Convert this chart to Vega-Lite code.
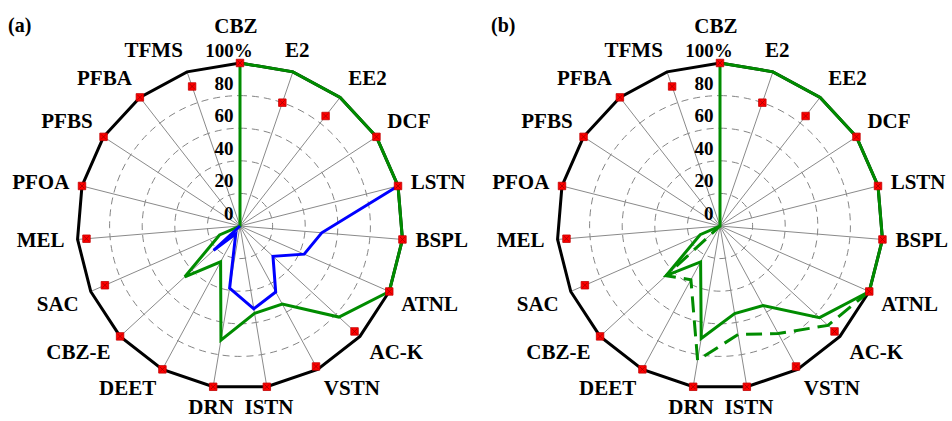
{
"$schema": "https://vega.github.io/schema/vega-lite/v6.json",
"background": "white",
"padding": 0,
"spacing": 0,
"bounds": "flush",
"config": {"view": {"stroke": null}},
"datasets": {
  "axes": [
    {"axis":"CBZ","i":0,"m":100},{"axis":"E2","i":1,"m":80},{"axis":"EE2","i":2,"m":85.5},{"axis":"DCF","i":3,"m":100},
    {"axis":"LSTN","i":4,"m":100},{"axis":"BSPL","i":5,"m":100},{"axis":"ATNL","i":6,"m":100},{"axis":"AC-K","i":7,"m":95.5},
    {"axis":"VSTN","i":8,"m":98},{"axis":"ISTN","i":9,"m":100},{"axis":"DRN","i":10,"m":100},{"axis":"DEET","i":11,"m":100},
    {"axis":"CBZ-E","i":12,"m":100},{"axis":"SAC","i":13,"m":90.5},{"axis":"MEL","i":14,"m":94.5},{"axis":"PFOA","i":15,"m":100},
    {"axis":"PFBS","i":16,"m":100},{"axis":"PFBA","i":17,"m":100},{"axis":"TFMS","i":18,"m":90.5}
  ],
  "rings": [{"r":20},{"r":40},{"r":60},{"r":80}],
  "ticks": [{"t":"0","v":0},{"t":"20","v":20},{"t":"40","v":40},{"t":"60","v":60},{"t":"80","v":80},{"t":"100%","v":100}],
  "a_green": [
    {"i":0,"v":100},{"i":1,"v":100},{"i":2,"v":100},{"i":3,"v":100},{"i":4,"v":100},{"i":5,"v":100},{"i":6,"v":100},
    {"i":7,"v":82.5},{"i":8,"v":54.5},{"i":9,"v":54.3},{"i":10,"v":71},{"i":11,"v":25},{"i":12,"v":46},{"i":13,"v":13.7},
    {"i":14,"v":0},{"i":15,"v":0},{"i":16,"v":0},{"i":17,"v":0},{"i":18,"v":0}
  ],
  "a_blue": [
    {"i":4,"v":100},{"i":5,"v":50.3},{"i":6,"v":43},{"i":7,"v":27.5},{"i":8,"v":46},{"i":9,"v":51.5},
    {"i":10,"v":38.7},{"i":11,"v":5.5},{"i":12,"v":22},{"i":13,"v":0}
  ],
  "b_solid": [
    {"i":0,"v":100},{"i":1,"v":100},{"i":2,"v":100},{"i":3,"v":100},{"i":4,"v":100},{"i":5,"v":100},{"i":6,"v":100},
    {"i":7,"v":83},{"i":8,"v":55.5},{"i":9,"v":54.5},{"i":10,"v":70},{"i":11,"v":25},{"i":12,"v":45},{"i":13,"v":13.3},
    {"i":14,"v":0},{"i":15,"v":0},{"i":16,"v":0},{"i":17,"v":0},{"i":18,"v":0}
  ],
  "b_dash": [
    {"i":6,"v":100},{"i":7,"v":90},{"i":8,"v":75},{"i":9,"v":67.5},{"i":10,"v":83.5},{"i":11,"v":37.5},{"i":12,"v":45},{"i":13,"v":0}
  ]
},
"hconcat": [
{
  "width": 480, "height": 421,
  "layer": [
    {"data":{"name":"rings"},
     "transform":[{"calculate":"0","as":"c"}],
     "mark":{"type":"arc","theta":0,"theta2":6.2832,"filled":false,"color":"#858585","strokeWidth":1,"strokeDash":[7,5]},
     "encoding":{
       "x":{"field":"c","type":"quantitative","scale":{"domain":[-147.24,147.24],"nice":false,"zero":false},"axis":null},
       "y":{"field":"c","type":"quantitative","scale":{"domain":[-119.63,138.65],"nice":false,"zero":false},"axis":null},
       "radius":{"field":"r","type":"quantitative","stack":null,"scale":{"type":"linear","domain":[0,100],"range":[0,163],"zero":true},"legend":null}}},
    {"data":{"name":"axes"},
     "transform":[{"calculate":"0","as":"c"},{"calculate":"100*sin(datum.i*2*PI/19)","as":"px"},{"calculate":"100*cos(datum.i*2*PI/19)","as":"py"}],
     "mark":{"type":"rule","color":"#8a8a8a","strokeWidth":1},
     "encoding":{
       "x":{"field":"c","type":"quantitative","scale":{"domain":[-147.24,147.24],"nice":false,"zero":false},"axis":null},
       "y":{"field":"c","type":"quantitative","scale":{"domain":[-119.63,138.65],"nice":false,"zero":false},"axis":null},
       "x2":{"field":"px"},"y2":{"field":"py"}}},
    {"data":{"name":"axes"},
     "transform":[{"calculate":"100*sin(datum.i*2*PI/19)","as":"px"},{"calculate":"100*cos(datum.i*2*PI/19)","as":"py"}],
     "mark":{"type":"line","interpolate":"linear-closed","color":"black","strokeWidth":3},
     "encoding":{
       "x":{"field":"px","type":"quantitative","scale":{"domain":[-147.24,147.24],"nice":false,"zero":false},"axis":null},
       "y":{"field":"py","type":"quantitative","scale":{"domain":[-119.63,138.65],"nice":false,"zero":false},"axis":null},
       "order":{"field":"i"}}},
    {"data":{"name":"a_green"},
     "transform":[{"calculate":"datum.v*sin(datum.i*2*PI/19)","as":"px"},{"calculate":"datum.v*cos(datum.i*2*PI/19)","as":"py"}],
     "mark":{"type":"line","interpolate":"linear-closed","color":"#008c00","strokeWidth":3},
     "encoding":{
       "x":{"field":"px","type":"quantitative","scale":{"domain":[-147.24,147.24],"nice":false,"zero":false},"axis":null},
       "y":{"field":"py","type":"quantitative","scale":{"domain":[-119.63,138.65],"nice":false,"zero":false},"axis":null},
       "order":{"field":"i"}}},
    {"data":{"name":"a_blue"},
     "transform":[{"calculate":"datum.v*sin(datum.i*2*PI/19)","as":"px"},{"calculate":"datum.v*cos(datum.i*2*PI/19)","as":"py"}],
     "mark":{"type":"line","color":"#0000ff","strokeWidth":3},
     "encoding":{
       "x":{"field":"px","type":"quantitative","scale":{"domain":[-147.24,147.24],"nice":false,"zero":false},"axis":null},
       "y":{"field":"py","type":"quantitative","scale":{"domain":[-119.63,138.65],"nice":false,"zero":false},"axis":null},
       "order":{"field":"i"}}},
    {"data":{"name":"axes"},
     "transform":[{"calculate":"datum.m*sin(datum.i*2*PI/19)","as":"px"},{"calculate":"datum.m*cos(datum.i*2*PI/19)","as":"py"}],
     "mark":{"type":"point","shape":"square","filled":true,"fill":"#ff0000","stroke":"#c00000","strokeWidth":0.8,"size":56,"opacity":1},
     "encoding":{
       "x":{"field":"px","type":"quantitative","scale":{"domain":[-147.24,147.24],"nice":false,"zero":false},"axis":null},
       "y":{"field":"py","type":"quantitative","scale":{"domain":[-119.63,138.65],"nice":false,"zero":false},"axis":null}}},
    {"data":{"name":"axes"},
     "transform":[{"calculate":"datum.m*sin(datum.i*2*PI/19)","as":"px"},{"calculate":"datum.m*cos(datum.i*2*PI/19)","as":"py"}],
     "mark":{"type":"point","shape":"M-1,-1L1,1M1,-1L-1,1","filled":false,"stroke":"#a00000","strokeWidth":0.8,"size":24,"opacity":1},
     "encoding":{
       "x":{"field":"px","type":"quantitative","scale":{"domain":[-147.24,147.24],"nice":false,"zero":false},"axis":null},
       "y":{"field":"py","type":"quantitative","scale":{"domain":[-119.63,138.65],"nice":false,"zero":false},"axis":null}}},
    {"data":{"name":"axes"},
     "transform":[{"filter":"datum.i==0"},{"calculate":"-2.5","as":"lx"},{"calculate":"122","as":"ly"}],
     "mark":{"type":"text","align":"center","baseline":"middle","font":"Liberation Serif","fontWeight":"bold","fontSize":21,"color":"black"},
     "encoding":{"x":{"field":"lx","type":"quantitative"},"y":{"field":"ly","type":"quantitative"},"text":{"field":"axis","type":"nominal"}}},
    {"data":{"name":"axes"},
     "transform":[{"filter":"datum.i==1"},{"calculate":"108*sin(datum.i*2*PI/19)","as":"lx"},{"calculate":"108*cos(datum.i*2*PI/19)","as":"ly"}],
     "mark":{"type":"text","align":"center","baseline":"middle","dy":-8,"font":"Liberation Serif","fontWeight":"bold","fontSize":21,"color":"black"},
     "encoding":{"x":{"field":"lx","type":"quantitative"},"y":{"field":"ly","type":"quantitative"},"text":{"field":"axis","type":"nominal"}}},
    {"data":{"name":"axes"},
     "transform":[{"filter":"datum.i>=2 && datum.i<=3"},{"calculate":"108*sin(datum.i*2*PI/19)","as":"lx"},{"calculate":"108*cos(datum.i*2*PI/19)","as":"ly"}],
     "mark":{"type":"text","align":"left","baseline":"middle","dy":-8,"font":"Liberation Serif","fontWeight":"bold","fontSize":21,"color":"black"},
     "encoding":{"x":{"field":"lx","type":"quantitative"},"y":{"field":"ly","type":"quantitative"},"text":{"field":"axis","type":"nominal"}}},
    {"data":{"name":"axes"},
     "transform":[{"filter":"datum.i>=4 && datum.i<=5"},{"calculate":"108*sin(datum.i*2*PI/19)","as":"lx"},{"calculate":"108*cos(datum.i*2*PI/19)","as":"ly"}],
     "mark":{"type":"text","align":"left","baseline":"middle","font":"Liberation Serif","fontWeight":"bold","fontSize":21,"color":"black"},
     "encoding":{"x":{"field":"lx","type":"quantitative"},"y":{"field":"ly","type":"quantitative"},"text":{"field":"axis","type":"nominal"}}},
    {"data":{"name":"axes"},
     "transform":[{"filter":"datum.i>=6 && datum.i<=8"},{"calculate":"108*sin(datum.i*2*PI/19)","as":"lx"},{"calculate":"108*cos(datum.i*2*PI/19)","as":"ly"}],
     "mark":{"type":"text","align":"left","baseline":"middle","dy":8,"font":"Liberation Serif","fontWeight":"bold","fontSize":21,"color":"black"},
     "encoding":{"x":{"field":"lx","type":"quantitative"},"y":{"field":"ly","type":"quantitative"},"text":{"field":"axis","type":"nominal"}}},
    {"data":{"name":"axes"},
     "transform":[{"filter":"datum.i>=9 && datum.i<=10"},{"calculate":"108*sin(datum.i*2*PI/19)","as":"lx"},{"calculate":"108*cos(datum.i*2*PI/19)","as":"ly"}],
     "mark":{"type":"text","align":"center","baseline":"middle","dy":8,"font":"Liberation Serif","fontWeight":"bold","fontSize":21,"color":"black"},
     "encoding":{"x":{"field":"lx","type":"quantitative"},"y":{"field":"ly","type":"quantitative"},"text":{"field":"axis","type":"nominal"}}},
    {"data":{"name":"axes"},
     "transform":[{"filter":"datum.i>=11 && datum.i<=13"},{"calculate":"108*sin(datum.i*2*PI/19)","as":"lx"},{"calculate":"108*cos(datum.i*2*PI/19)","as":"ly"}],
     "mark":{"type":"text","align":"right","baseline":"middle","dy":8,"font":"Liberation Serif","fontWeight":"bold","fontSize":21,"color":"black"},
     "encoding":{"x":{"field":"lx","type":"quantitative"},"y":{"field":"ly","type":"quantitative"},"text":{"field":"axis","type":"nominal"}}},
    {"data":{"name":"axes"},
     "transform":[{"filter":"datum.i>=14 && datum.i<=15"},{"calculate":"108*sin(datum.i*2*PI/19)","as":"lx"},{"calculate":"108*cos(datum.i*2*PI/19)","as":"ly"}],
     "mark":{"type":"text","align":"right","baseline":"middle","font":"Liberation Serif","fontWeight":"bold","fontSize":21,"color":"black"},
     "encoding":{"x":{"field":"lx","type":"quantitative"},"y":{"field":"ly","type":"quantitative"},"text":{"field":"axis","type":"nominal"}}},
    {"data":{"name":"axes"},
     "transform":[{"filter":"datum.i>=16"},{"calculate":"108*sin(datum.i*2*PI/19)","as":"lx"},{"calculate":"108*cos(datum.i*2*PI/19)","as":"ly"}],
     "mark":{"type":"text","align":"right","baseline":"middle","dy":-8,"font":"Liberation Serif","fontWeight":"bold","fontSize":21,"color":"black"},
     "encoding":{"x":{"field":"lx","type":"quantitative"},"y":{"field":"ly","type":"quantitative"},"text":{"field":"axis","type":"nominal"}}},
    {"data":{"name":"ticks"},
     "transform":[{"filter":"datum.v<100"},{"calculate":"-4","as":"tx"}],
     "mark":{"type":"text","align":"right","baseline":"middle","dy":-12,"font":"Liberation Serif","fontWeight":"bold","fontSize":19,"color":"black"},
     "encoding":{"x":{"field":"tx","type":"quantitative"},"y":{"field":"v","type":"quantitative"},"text":{"field":"t","type":"nominal"}}},
    {"data":{"name":"ticks"},
     "transform":[{"filter":"datum.v==100"},{"calculate":"-6.7","as":"tx"}],
     "mark":{"type":"text","align":"center","baseline":"middle","dy":-12,"font":"Liberation Serif","fontWeight":"bold","fontSize":19,"color":"black"},
     "encoding":{"x":{"field":"tx","type":"quantitative"},"y":{"field":"v","type":"quantitative"},"text":{"field":"t","type":"nominal"}}},
    {"data":{"values":[{"t":"(a)"}]},
     "transform":[{"calculate":"-142.3","as":"tx"},{"calculate":"122.5","as":"ty"}],
     "mark":{"type":"text","align":"left","baseline":"middle","font":"Liberation Serif","fontWeight":"bold","fontSize":20,"color":"black"},
     "encoding":{"x":{"field":"tx","type":"quantitative"},"y":{"field":"ty","type":"quantitative"},"text":{"field":"t","type":"nominal"}}}
  ]
},
{
  "width": 472, "height": 421,
  "layer": [
    {"data":{"name":"rings"},
     "transform":[{"calculate":"0","as":"c"}],
     "mark":{"type":"arc","theta":0,"theta2":6.2832,"filled":false,"color":"#858585","strokeWidth":1,"strokeDash":[7,5]},
     "encoding":{
       "x":{"field":"c","type":"quantitative","scale":{"domain":[-147.24,142.33],"nice":false,"zero":false},"axis":null},
       "y":{"field":"c","type":"quantitative","scale":{"domain":[-119.63,138.65],"nice":false,"zero":false},"axis":null},
       "radius":{"field":"r","type":"quantitative","stack":null,"scale":{"type":"linear","domain":[0,100],"range":[0,163],"zero":true},"legend":null}}},
    {"data":{"name":"axes"},
     "transform":[{"calculate":"0","as":"c"},{"calculate":"100*sin(datum.i*2*PI/19)","as":"px"},{"calculate":"100*cos(datum.i*2*PI/19)","as":"py"}],
     "mark":{"type":"rule","color":"#8a8a8a","strokeWidth":1},
     "encoding":{
       "x":{"field":"c","type":"quantitative","scale":{"domain":[-147.24,142.33],"nice":false,"zero":false},"axis":null},
       "y":{"field":"c","type":"quantitative","scale":{"domain":[-119.63,138.65],"nice":false,"zero":false},"axis":null},
       "x2":{"field":"px"},"y2":{"field":"py"}}},
    {"data":{"name":"axes"},
     "transform":[{"calculate":"100*sin(datum.i*2*PI/19)","as":"px"},{"calculate":"100*cos(datum.i*2*PI/19)","as":"py"}],
     "mark":{"type":"line","interpolate":"linear-closed","color":"black","strokeWidth":3},
     "encoding":{
       "x":{"field":"px","type":"quantitative","scale":{"domain":[-147.24,142.33],"nice":false,"zero":false},"axis":null},
       "y":{"field":"py","type":"quantitative","scale":{"domain":[-119.63,138.65],"nice":false,"zero":false},"axis":null},
       "order":{"field":"i"}}},
    {"data":{"name":"b_dash"},
     "transform":[{"calculate":"datum.v*sin(datum.i*2*PI/19)","as":"px"},{"calculate":"datum.v*cos(datum.i*2*PI/19)","as":"py"}],
     "mark":{"type":"line","color":"#008c00","strokeWidth":3,"strokeDash":[16,8]},
     "encoding":{
       "x":{"field":"px","type":"quantitative","scale":{"domain":[-147.24,142.33],"nice":false,"zero":false},"axis":null},
       "y":{"field":"py","type":"quantitative","scale":{"domain":[-119.63,138.65],"nice":false,"zero":false},"axis":null},
       "order":{"field":"i"}}},
    {"data":{"name":"b_solid"},
     "transform":[{"calculate":"datum.v*sin(datum.i*2*PI/19)","as":"px"},{"calculate":"datum.v*cos(datum.i*2*PI/19)","as":"py"}],
     "mark":{"type":"line","interpolate":"linear-closed","color":"#008c00","strokeWidth":3},
     "encoding":{
       "x":{"field":"px","type":"quantitative","scale":{"domain":[-147.24,142.33],"nice":false,"zero":false},"axis":null},
       "y":{"field":"py","type":"quantitative","scale":{"domain":[-119.63,138.65],"nice":false,"zero":false},"axis":null},
       "order":{"field":"i"}}},
    {"data":{"name":"axes"},
     "transform":[{"calculate":"datum.m*sin(datum.i*2*PI/19)","as":"px"},{"calculate":"datum.m*cos(datum.i*2*PI/19)","as":"py"}],
     "mark":{"type":"point","shape":"square","filled":true,"fill":"#ff0000","stroke":"#c00000","strokeWidth":0.8,"size":56,"opacity":1},
     "encoding":{
       "x":{"field":"px","type":"quantitative","scale":{"domain":[-147.24,142.33],"nice":false,"zero":false},"axis":null},
       "y":{"field":"py","type":"quantitative","scale":{"domain":[-119.63,138.65],"nice":false,"zero":false},"axis":null}}},
    {"data":{"name":"axes"},
     "transform":[{"calculate":"datum.m*sin(datum.i*2*PI/19)","as":"px"},{"calculate":"datum.m*cos(datum.i*2*PI/19)","as":"py"}],
     "mark":{"type":"point","shape":"M-1,-1L1,1M1,-1L-1,1","filled":false,"stroke":"#a00000","strokeWidth":0.8,"size":24,"opacity":1},
     "encoding":{
       "x":{"field":"px","type":"quantitative","scale":{"domain":[-147.24,142.33],"nice":false,"zero":false},"axis":null},
       "y":{"field":"py","type":"quantitative","scale":{"domain":[-119.63,138.65],"nice":false,"zero":false},"axis":null}}},
    {"data":{"name":"axes"},
     "transform":[{"filter":"datum.i==0"},{"calculate":"-2.5","as":"lx"},{"calculate":"122","as":"ly"}],
     "mark":{"type":"text","align":"center","baseline":"middle","font":"Liberation Serif","fontWeight":"bold","fontSize":21,"color":"black"},
     "encoding":{"x":{"field":"lx","type":"quantitative"},"y":{"field":"ly","type":"quantitative"},"text":{"field":"axis","type":"nominal"}}},
    {"data":{"name":"axes"},
     "transform":[{"filter":"datum.i==1"},{"calculate":"108*sin(datum.i*2*PI/19)","as":"lx"},{"calculate":"108*cos(datum.i*2*PI/19)","as":"ly"}],
     "mark":{"type":"text","align":"center","baseline":"middle","dy":-8,"font":"Liberation Serif","fontWeight":"bold","fontSize":21,"color":"black"},
     "encoding":{"x":{"field":"lx","type":"quantitative"},"y":{"field":"ly","type":"quantitative"},"text":{"field":"axis","type":"nominal"}}},
    {"data":{"name":"axes"},
     "transform":[{"filter":"datum.i>=2 && datum.i<=3"},{"calculate":"108*sin(datum.i*2*PI/19)","as":"lx"},{"calculate":"108*cos(datum.i*2*PI/19)","as":"ly"}],
     "mark":{"type":"text","align":"left","baseline":"middle","dy":-8,"font":"Liberation Serif","fontWeight":"bold","fontSize":21,"color":"black"},
     "encoding":{"x":{"field":"lx","type":"quantitative"},"y":{"field":"ly","type":"quantitative"},"text":{"field":"axis","type":"nominal"}}},
    {"data":{"name":"axes"},
     "transform":[{"filter":"datum.i>=4 && datum.i<=5"},{"calculate":"108*sin(datum.i*2*PI/19)","as":"lx"},{"calculate":"108*cos(datum.i*2*PI/19)","as":"ly"}],
     "mark":{"type":"text","align":"left","baseline":"middle","font":"Liberation Serif","fontWeight":"bold","fontSize":21,"color":"black"},
     "encoding":{"x":{"field":"lx","type":"quantitative"},"y":{"field":"ly","type":"quantitative"},"text":{"field":"axis","type":"nominal"}}},
    {"data":{"name":"axes"},
     "transform":[{"filter":"datum.i>=6 && datum.i<=8"},{"calculate":"108*sin(datum.i*2*PI/19)","as":"lx"},{"calculate":"108*cos(datum.i*2*PI/19)","as":"ly"}],
     "mark":{"type":"text","align":"left","baseline":"middle","dy":8,"font":"Liberation Serif","fontWeight":"bold","fontSize":21,"color":"black"},
     "encoding":{"x":{"field":"lx","type":"quantitative"},"y":{"field":"ly","type":"quantitative"},"text":{"field":"axis","type":"nominal"}}},
    {"data":{"name":"axes"},
     "transform":[{"filter":"datum.i>=9 && datum.i<=10"},{"calculate":"108*sin(datum.i*2*PI/19)","as":"lx"},{"calculate":"108*cos(datum.i*2*PI/19)","as":"ly"}],
     "mark":{"type":"text","align":"center","baseline":"middle","dy":8,"font":"Liberation Serif","fontWeight":"bold","fontSize":21,"color":"black"},
     "encoding":{"x":{"field":"lx","type":"quantitative"},"y":{"field":"ly","type":"quantitative"},"text":{"field":"axis","type":"nominal"}}},
    {"data":{"name":"axes"},
     "transform":[{"filter":"datum.i>=11 && datum.i<=13"},{"calculate":"108*sin(datum.i*2*PI/19)","as":"lx"},{"calculate":"108*cos(datum.i*2*PI/19)","as":"ly"}],
     "mark":{"type":"text","align":"right","baseline":"middle","dy":8,"font":"Liberation Serif","fontWeight":"bold","fontSize":21,"color":"black"},
     "encoding":{"x":{"field":"lx","type":"quantitative"},"y":{"field":"ly","type":"quantitative"},"text":{"field":"axis","type":"nominal"}}},
    {"data":{"name":"axes"},
     "transform":[{"filter":"datum.i>=14 && datum.i<=15"},{"calculate":"108*sin(datum.i*2*PI/19)","as":"lx"},{"calculate":"108*cos(datum.i*2*PI/19)","as":"ly"}],
     "mark":{"type":"text","align":"right","baseline":"middle","font":"Liberation Serif","fontWeight":"bold","fontSize":21,"color":"black"},
     "encoding":{"x":{"field":"lx","type":"quantitative"},"y":{"field":"ly","type":"quantitative"},"text":{"field":"axis","type":"nominal"}}},
    {"data":{"name":"axes"},
     "transform":[{"filter":"datum.i>=16"},{"calculate":"108*sin(datum.i*2*PI/19)","as":"lx"},{"calculate":"108*cos(datum.i*2*PI/19)","as":"ly"}],
     "mark":{"type":"text","align":"right","baseline":"middle","dy":-8,"font":"Liberation Serif","fontWeight":"bold","fontSize":21,"color":"black"},
     "encoding":{"x":{"field":"lx","type":"quantitative"},"y":{"field":"ly","type":"quantitative"},"text":{"field":"axis","type":"nominal"}}},
    {"data":{"name":"ticks"},
     "transform":[{"filter":"datum.v<100"},{"calculate":"-4","as":"tx"}],
     "mark":{"type":"text","align":"right","baseline":"middle","dy":-12,"font":"Liberation Serif","fontWeight":"bold","fontSize":19,"color":"black"},
     "encoding":{"x":{"field":"tx","type":"quantitative"},"y":{"field":"v","type":"quantitative"},"text":{"field":"t","type":"nominal"}}},
    {"data":{"name":"ticks"},
     "transform":[{"filter":"datum.v==100"},{"calculate":"-6.7","as":"tx"}],
     "mark":{"type":"text","align":"center","baseline":"middle","dy":-12,"font":"Liberation Serif","fontWeight":"bold","fontSize":19,"color":"black"},
     "encoding":{"x":{"field":"tx","type":"quantitative"},"y":{"field":"v","type":"quantitative"},"text":{"field":"t","type":"nominal"}}},
    {"data":{"values":[{"t":"(b)"}]},
     "transform":[{"calculate":"-140.5","as":"tx"},{"calculate":"122.5","as":"ty"}],
     "mark":{"type":"text","align":"left","baseline":"middle","font":"Liberation Serif","fontWeight":"bold","fontSize":20,"color":"black"},
     "encoding":{"x":{"field":"tx","type":"quantitative"},"y":{"field":"ty","type":"quantitative"},"text":{"field":"t","type":"nominal"}}}
  ]
}
]
}
